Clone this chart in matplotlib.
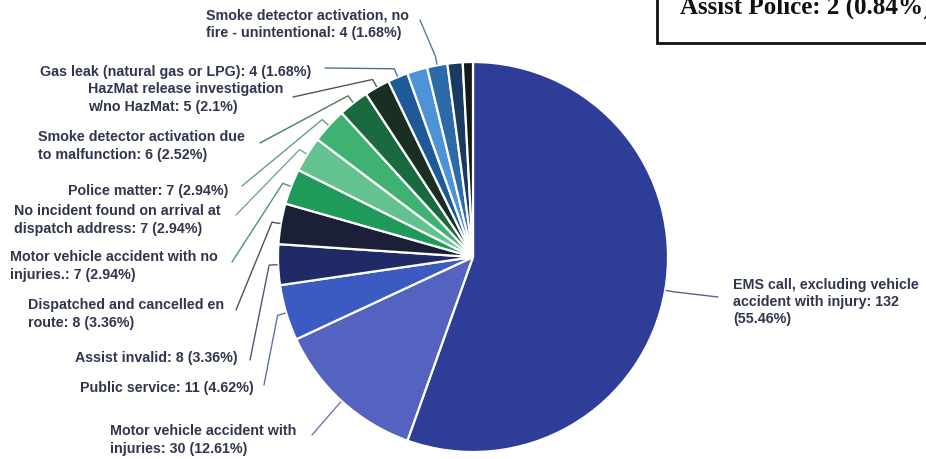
"""Incident type breakdown pie (recreation of a scanned report figure)."""
import matplotlib
matplotlib.use("Agg")
import matplotlib.pyplot as plt
import matplotlib.colors as mcolors
import numpy as np

# slice data, clockwise from 12 o'clock
categories = [
    "EMS call, excluding vehicle\naccident with injury",
    "Motor vehicle accident with\ninjuries",
    "Public service",
    "Assist invalid",
    "Dispatched and cancelled en\nroute",
    "Motor vehicle accident with no\ninjuries.",
    "No incident found on arrival at\ndispatch address",
    "Police matter",
    "Smoke detector activation due\nto malfunction",
    "HazMat release investigation\nw/no HazMat",
    "Gas leak (natural gas or LPG)",
    "",
    "Smoke detector activation, no\nfire - unintentional",
    "",
    "Assist Police",
]
counts = [132, 30, 11, 8, 8, 7, 7, 7, 6, 5, 4, 4, 4, 3, 2]
pct_text = ["55.46%", "12.61%", "4.62%", "3.36%", "3.36%", "2.94%", "2.94%",
            "2.94%", "2.52%", "2.1%", "1.68%", "1.68%", "1.68%", "1.26%", "0.84%"]
colors = ["#2e3d98", "#5363bf", "#3b5bc2", "#1f2a66", "#1b2038", "#1f9a58",
          "#62c290", "#3fb272", "#1a6a40", "#1b2e24", "#1f5a98", "#4e92d8",
          "#2d6aaa", "#1b3a62", "#151a1a"]

# layout (pixels): label left x, block centre y, leader start point
label_pos = {
    0: (733, 302, 718, 297),
    1: (110, 440, 312, 435),
    2: (80, 388, 264, 385),
    3: (75, 358, 250, 360),
    4: (28, 314, 236, 310),
    5: (10, 266, 232, 262),
    6: (14, 220, 236, 215),
    7: (68, 191, 242, 186),
    8: (38, 146, 260, 143),
    9: (88, 98, 293, 97),
    10: (40, 72, 325, 68),
    12: (206, 24, 420, 20),
}

W, H = 926, 459
CX, CY, R = 473, 257, 195
TXT = "#30364e"

fig = plt.figure(figsize=(W / 100, H / 100), dpi=100)
ax = fig.add_axes([0, 0, 1, 1])
wedges, _ = ax.pie(counts, colors=colors, startangle=270, counterclock=True,
                   center=(CX, CY), radius=R,
                   wedgeprops=dict(edgecolor="white", linewidth=1.6))
ax.set_xlim(0, W); ax.set_ylim(H, 0); ax.set_aspect("equal"); ax.axis("off")

for i, w in enumerate(wedges):
    if i not in label_pos:
        continue
    tx, ty, lx, ly = label_pos[i]
    mid = np.deg2rad((w.theta1 + w.theta2) / 2)
    u = np.array([np.cos(mid), np.sin(mid)])
    edge = np.array([CX, CY]) + (R + 1) * u
    elbow = np.array([CX, CY]) + (R + 9) * u
    lc = mcolors.to_rgb(colors[i])
    lc = tuple(0.55 * c + 0.45 * 0.55 for c in lc)
    ax.plot([lx, elbow[0], edge[0]], [ly, elbow[1], edge[1]], color=lc, lw=1.0,
            solid_capstyle="round")
    label = f"{categories[i]}: {counts[i]}"
    if i == 0:
        label = f"{categories[i]}: {counts[i]}\n({pct_text[i]})"
    else:
        label += f" ({pct_text[i]})"
    ax.text(tx, ty, label, ha="left", va="center", fontsize=10.3, fontweight="bold",
            color=TXT, family=["Liberation Sans", "DejaVu Sans"], linespacing=1.3)

# typed annotation box for the smallest slice (runs off the top/right edge like the scan)
ax.add_patch(plt.Rectangle((657, -10), 300, 53, fill=False, edgecolor="#111111", lw=2.0,
                           clip_on=True))
ax.text(680, 14, f"{categories[-1]}: {counts[-1]} ({pct_text[-1]})", ha="left", va="baseline",
        fontsize=18, fontweight="bold", color="#111111",
        family=["Liberation Serif", "DejaVu Serif"])

fig.savefig("out.png", dpi=100)
